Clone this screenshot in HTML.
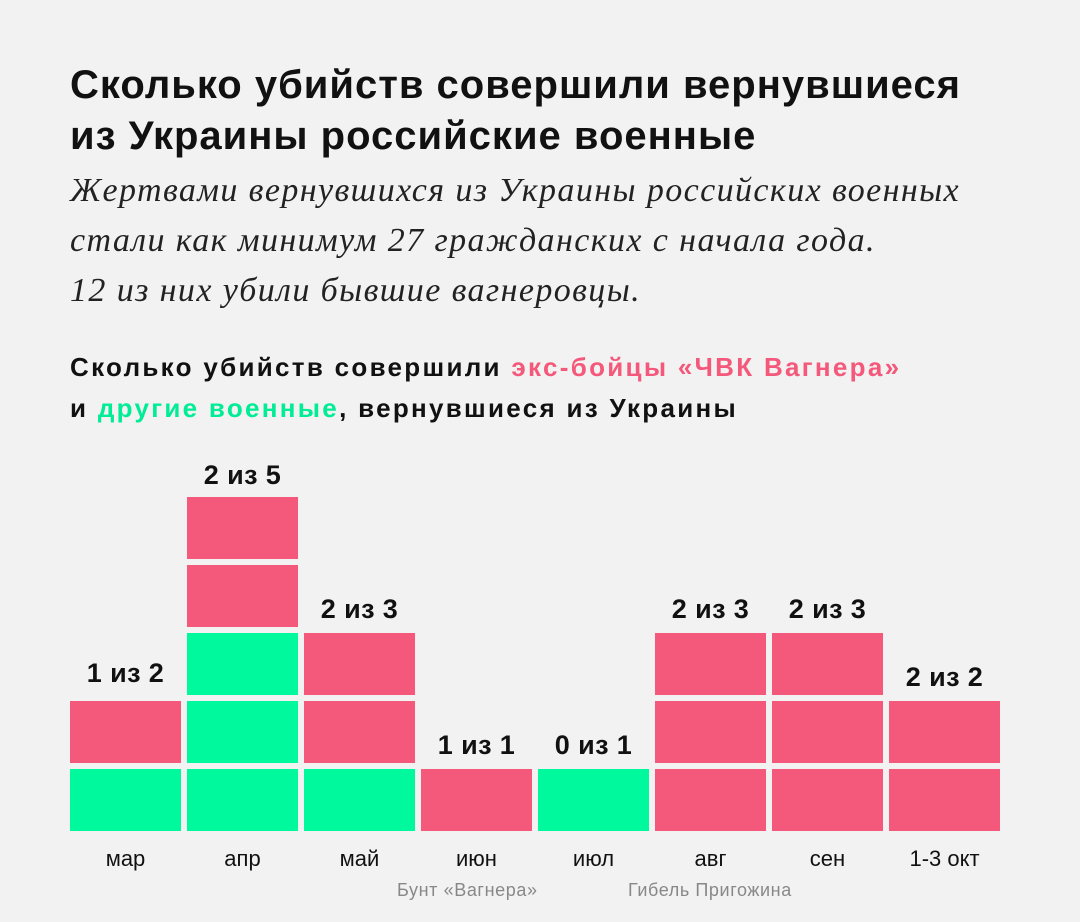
<!DOCTYPE html>
<html><head><meta charset="utf-8"><style>
body{margin:0;width:1080px;height:922px;background:#f2f2f2;position:relative;overflow:hidden;font-family:"Liberation Sans",sans-serif;color:#111}
.t{position:absolute;left:70px;top:60px;font-size:40px;font-weight:bold;line-height:51px;letter-spacing:1.0px;white-space:nowrap}
.s{position:absolute;left:70px;top:166px;font-family:"Liberation Serif",serif;font-style:italic;font-size:34px;line-height:50px;color:#222;letter-spacing:1.4px;white-space:nowrap}
.c{position:absolute;left:70px;top:347px;font-size:26px;font-weight:bold;line-height:41px;letter-spacing:2.3px;white-space:nowrap}
.p{color:#f4587a}.g{color:#00ec95}
.b{position:absolute;width:111px;height:62px}
.P{background:#f4587a}.G{background:#00f99c}
.l{position:absolute;width:111px;text-align:center;font-weight:bold;font-size:27px;letter-spacing:0.4px}
.m{position:absolute;width:111px;text-align:center;font-size:22px;top:846px}
.n{position:absolute;font-size:18px;color:#888;top:880px;letter-spacing:0.6px}
</style></head><body>
<div class="t">Сколько убийств совершили вернувшиеся<br>из Украины российские военные</div>
<div class="s">Жертвами вернувшихся из Украины российских военных<br>стали как минимум 27 гражданских с начала года.<br>12 из них убили бывшие вагнеровцы.</div>
<div class="c">Сколько убийств совершили <span class="p">экс-бойцы «ЧВК Вагнера»</span><br>и <span class="g">другие военные</span>, вернувшиеся из Украины</div>

<div class="b G" style="left:70px;top:769px"></div><div class="b P" style="left:70px;top:701px"></div>
<div class="l" style="left:70px;top:658px">1 из 2</div>

<div class="b G" style="left:187px;top:769px"></div><div class="b G" style="left:187px;top:701px"></div><div class="b G" style="left:187px;top:633px"></div><div class="b P" style="left:187px;top:565px"></div><div class="b P" style="left:187px;top:497px"></div>
<div class="l" style="left:187px;top:460px">2 из 5</div>

<div class="b G" style="left:304px;top:769px"></div><div class="b P" style="left:304px;top:701px"></div><div class="b P" style="left:304px;top:633px"></div>
<div class="l" style="left:304px;top:594px">2 из 3</div>

<div class="b P" style="left:421px;top:769px"></div>
<div class="l" style="left:421px;top:730px">1 из 1</div>

<div class="b G" style="left:538px;top:769px"></div>
<div class="l" style="left:538px;top:730px">0 из 1</div>

<div class="b P" style="left:655px;top:769px"></div><div class="b P" style="left:655px;top:701px"></div><div class="b P" style="left:655px;top:633px"></div>
<div class="l" style="left:655px;top:594px">2 из 3</div>

<div class="b P" style="left:772px;top:769px"></div><div class="b P" style="left:772px;top:701px"></div><div class="b P" style="left:772px;top:633px"></div>
<div class="l" style="left:772px;top:594px">2 из 3</div>

<div class="b P" style="left:889px;top:769px"></div><div class="b P" style="left:889px;top:701px"></div>
<div class="l" style="left:889px;top:662px">2 из 2</div>

<div class="m" style="left:70px">мар</div><div class="m" style="left:187px">апр</div><div class="m" style="left:304px">май</div><div class="m" style="left:421px">июн</div><div class="m" style="left:538px">июл</div><div class="m" style="left:655px">авг</div><div class="m" style="left:772px">сен</div><div class="m" style="left:889px">1-3 окт</div>
<div class="n" style="left:397px">Бунт «Вагнера»</div>
<div class="n" style="left:628px">Гибель Пригожина</div>
</body></html>
